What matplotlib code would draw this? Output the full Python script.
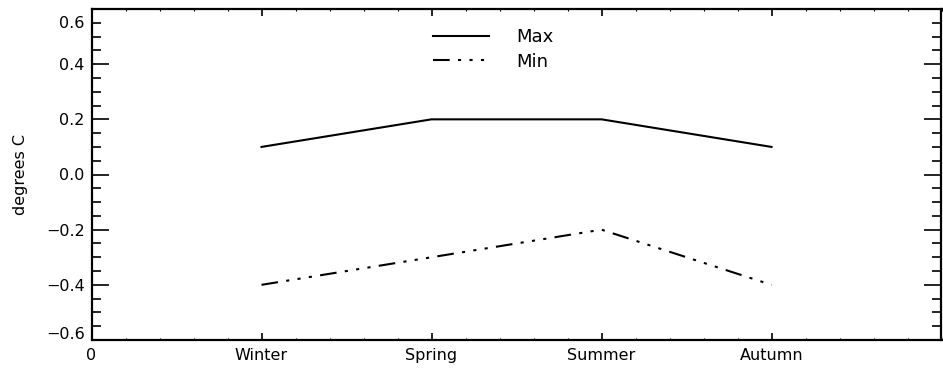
import matplotlib
matplotlib.use("Agg")
import matplotlib.pyplot as plt
from matplotlib.ticker import FixedLocator, MultipleLocator
from matplotlib.transforms import ScaledTranslation

seasons = ["Winter", "Spring", "Summer", "Autumn"]
x_pos = [1, 2, 3, 4]
max_vals = [0.1, 0.2, 0.2, 0.1]
min_vals = [-0.4, -0.3, -0.2, -0.4]
xtick_labels = ["0"] + seasons
ytick_vals = [-0.6, -0.4, -0.2, 0.0, 0.2, 0.4, 0.6]

plt.rcParams['font.family'] = ['DejaVu Sans']

fig = plt.figure(figsize=(9.43, 3.71), dpi=100)
ax = fig.add_axes([91.5/943, 1 - 340/371, 850/943, 331/371])

ax.plot(x_pos, max_vals, color='black', lw=1.5, label='Max')
ax.plot(x_pos, min_vals, color='black', lw=1.5, dashes=(8, 4, 1.5, 4, 1.5, 4, 1.5, 4), label='Min')

ax.set_xlim(0, 5)
ax.set_ylim(-0.6, 0.6)
ax.xaxis.set_major_locator(FixedLocator([0] + x_pos))
ax.set_xticklabels(xtick_labels)
ax.xaxis.set_minor_locator(MultipleLocator(0.2))
ax.yaxis.set_major_locator(FixedLocator(ytick_vals))
ax.set_yticklabels([f"{v:.1f}".replace("-", "\u2212") for v in ytick_vals])
ax.yaxis.set_minor_locator(MultipleLocator(0.05))

ax.tick_params(which='both', direction='in', top=True, right=True, labelsize=11.5, colors='black', width=1.2)
ax.tick_params(axis='y', which='major', length=12.5, pad=5)
ax.tick_params(axis='y', which='minor', length=6.5)
ax.tick_params(axis='x', which='major', length=5, pad=6)
ax.tick_params(axis='x', which='minor', length=1.5, width=0.8)
for s in ax.spines.values():
    s.set_linewidth(1.6)

ax.set_ylabel("degrees C", fontsize=11.5, labelpad=13)

# shift end labels inward as in the reference
ticks = ax.yaxis.get_major_ticks()
ticks[-1].label1.set_transform(ticks[-1].label1.get_transform() + ScaledTranslation(0, -13/100, fig.dpi_scale_trans))
ticks[0].label1.set_transform(ticks[0].label1.get_transform() + ScaledTranslation(0, 7/100, fig.dpi_scale_trans))

leg = ax.legend(loc='center left', bbox_to_anchor=((433 - 91.5)/850, (340 - 49.4)/331), frameon=False,
                fontsize=13, handlelength=3.1, labelspacing=0.35, handletextpad=1.5,
                borderaxespad=0, borderpad=0)

fig.savefig("out.png", dpi=100)
